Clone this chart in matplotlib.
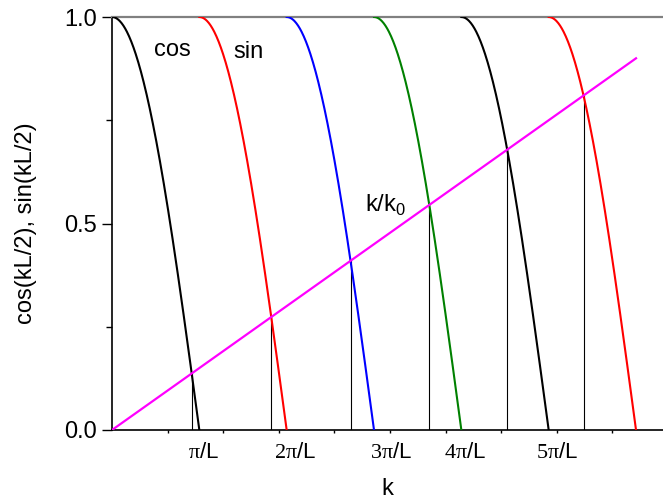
import numpy as np
import matplotlib
matplotlib.use("Agg")
import matplotlib.pyplot as plt
import matplotlib.transforms as mtransforms

plt.rcParams['font.family'] = ['Liberation Sans', 'DejaVu Sans']
plt.rcParams['mathtext.fontset'] = 'custom'
plt.rcParams['mathtext.rm'] = 'Liberation Serif'
plt.rcParams['mathtext.sf'] = 'Liberation Sans'

# branches of |cos(kL/2)| and |sin(kL/2)|, x axis is z = kL/2
seg_start = [0, 0.5, 1.0, 1.5, 2.0, 2.5]          # in units of pi
seg_func = ['cos', 'sin', 'cos', 'sin', 'cos', 'sin']
seg_color = ['black', 'red', 'blue', 'green', 'black', 'red']

# straight line k/k0
line_x = [0, 3 * np.pi]
line_y = [0, 0.9]

# labels under the axis
lab_text = [r'$\mathrm{\pi}$/L', r'$\mathrm{2\pi}$/L', r'$\mathrm{3\pi}$/L',
            r'$\mathrm{4\pi}$/L', r'$\mathrm{5\pi}$/L']
lab_pos = [1.64, 3.29, 5.02, 6.35, 8.00]

fig = plt.figure(figsize=(6.63, 5.04), dpi=100)
ax = fig.add_axes([112 / 663, 74 / 504, 551 / 663, 413 / 504])

slope = line_y[1] / line_x[1]
for s, f, c in zip(seg_start, seg_func, seg_color):
    z = np.linspace(s * np.pi, (s + 0.5) * np.pi, 200)
    y = np.abs(np.cos(z)) if f == 'cos' else np.abs(np.sin(z))
    ax.plot(z, y, color=c, lw=1.5, zorder=3)
    # where the line crosses this branch
    d = y - slope * z
    i = np.where(np.diff(np.sign(d)) != 0)[0][0]
    zc = z[i] - d[i] * (z[i + 1] - z[i]) / (d[i + 1] - d[i])
    ax.plot([zc, zc], [0, slope * zc], color='black', lw=0.8, zorder=2)

ax.plot(line_x, line_y, color='#ff00ff', lw=1.6, zorder=4)

ax.text(1.08, 0.92, 'cos', fontsize=17, ha='center', va='center')
ax.text(2.45, 0.915, 'sin', fontsize=17, ha='center', va='center')
ax.text(4.55, 0.528, r'k/k$_\mathsf{0}$', fontsize=17, ha='left', va='baseline')

trans = mtransforms.blended_transform_factory(ax.transData, ax.transAxes)
for t, p in zip(lab_text, lab_pos):
    ax.text(p, -0.068, t, transform=trans, fontsize=16, ha='center', va='baseline')

ax.set_xlim(0, 551 / 55.6)
ax.set_ylim(0, 1.0)

ax.spines['right'].set_visible(False)
ax.spines['top'].set_color('#808080')
ax.spines['top'].set_linewidth(1.6)
for sp in ['left', 'bottom']:
    ax.spines[sp].set_linewidth(1.2)

ax.set_yticks([0, 0.5, 1.0])
ax.set_yticklabels(['0.0', '0.5', '1.0'])
ax.set_yticks([0.25, 0.75], minor=True)
ax.tick_params(axis='y', which='major', length=7, width=1, labelsize=17, pad=4)
ax.tick_params(axis='y', which='minor', length=4, width=1)

ax.set_xticks(np.arange(1, 10))
ax.tick_params(axis='x', which='major', length=2, width=1, labelbottom=False)

ax.set_xlabel('k', fontsize=17)
ax.xaxis.set_label_coords(0.5, -0.116)
ax.set_ylabel('cos(kL/2), sin(kL/2)', fontsize=17)
ax.yaxis.set_label_coords(-0.137, 0.5)

fig.savefig('out.png', dpi=100)
